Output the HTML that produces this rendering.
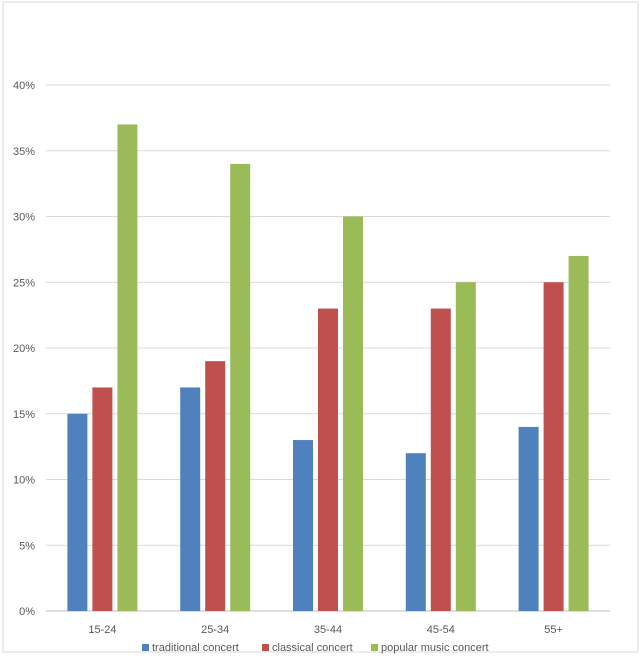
<!DOCTYPE html>
<html><head><style>
body{margin:0;background:#fff;}
svg{display:block;font-family:"Liberation Sans",sans-serif;}
</style></head><body>
<svg id="chart" width="644" height="656">
<rect x="3" y="2" width="635" height="650" fill="#fff" stroke="#d9d9d9"/>
<g id="grid"></g><g id="bars"></g><g id="labels"></g>
<g font-size="11" fill="#595959">
<rect x="142" y="644" width="7" height="7" fill="#4f81bd"/>
<text x="152" y="651">traditional concert</text>
<rect x="262" y="644" width="7" height="7" fill="#c0504d"/>
<text x="272" y="651">classical concert</text>
<rect x="371" y="644" width="7" height="7" fill="#9bbb59"/>
<text x="381" y="651">popular music concert</text>
</g>
</svg>
<script>
const categories=["15-24","25-34","35-44","45-54","55+"];
const traditional=[15,17,13,12,14];
const classical=[17,19,23,23,25];
const popular=[37,34,30,25,27];
const ticks=[0,5,10,15,20,25,30,35,40];
const NS="http://www.w3.org/2000/svg";
const x0=46,x1=610,y0=611,y40=85;
const yScale=v=>y0-(v/40)*(y0-y40);
const band=(x1-x0)/categories.length;
const xCenter=i=>x0+band*(i+0.5);
function mk(t,a,p){const e=document.createElementNS(NS,t);for(const k in a)e.setAttribute(k,a[k]);p.appendChild(e);return e;}
const grid=document.getElementById('grid'),bars=document.getElementById('bars'),labels=document.getElementById('labels');
ticks.forEach(t=>{
 const l=mk('line',{x1:x0,x2:x1,y1:yScale(t),y2:yScale(t),stroke:t===0?'#bfbfbf':'#d9d9d9','stroke-width':1},grid);
 
 
 const tx=mk('text',{x:35,y:yScale(t)+4,'text-anchor':'end','font-size':11,fill:'#595959'},labels);
 tx.textContent=t+'%';
 
 
});
const series=[[traditional,'#4f81bd','traditional'],[classical,'#c0504d','classical'],[popular,'#9bbb59','popular']];
const bw=20,gap=5;
categories.forEach((c,i)=>{
 series.forEach((s,j)=>{
  const v=s[0][i];
  const x=xCenter(i)+(j-1)*(bw+gap)-bw/2;
  const r=mk('rect',{x:x,y:yScale(v),width:bw,height:y0-yScale(v),fill:s[1]},bars);
  
  
 });
 const t=mk('text',{x:xCenter(i),y:633,'text-anchor':'middle','font-size':11,fill:'#595959'},labels);
 t.textContent=c;
 
 
});
</script>
</body></html>
